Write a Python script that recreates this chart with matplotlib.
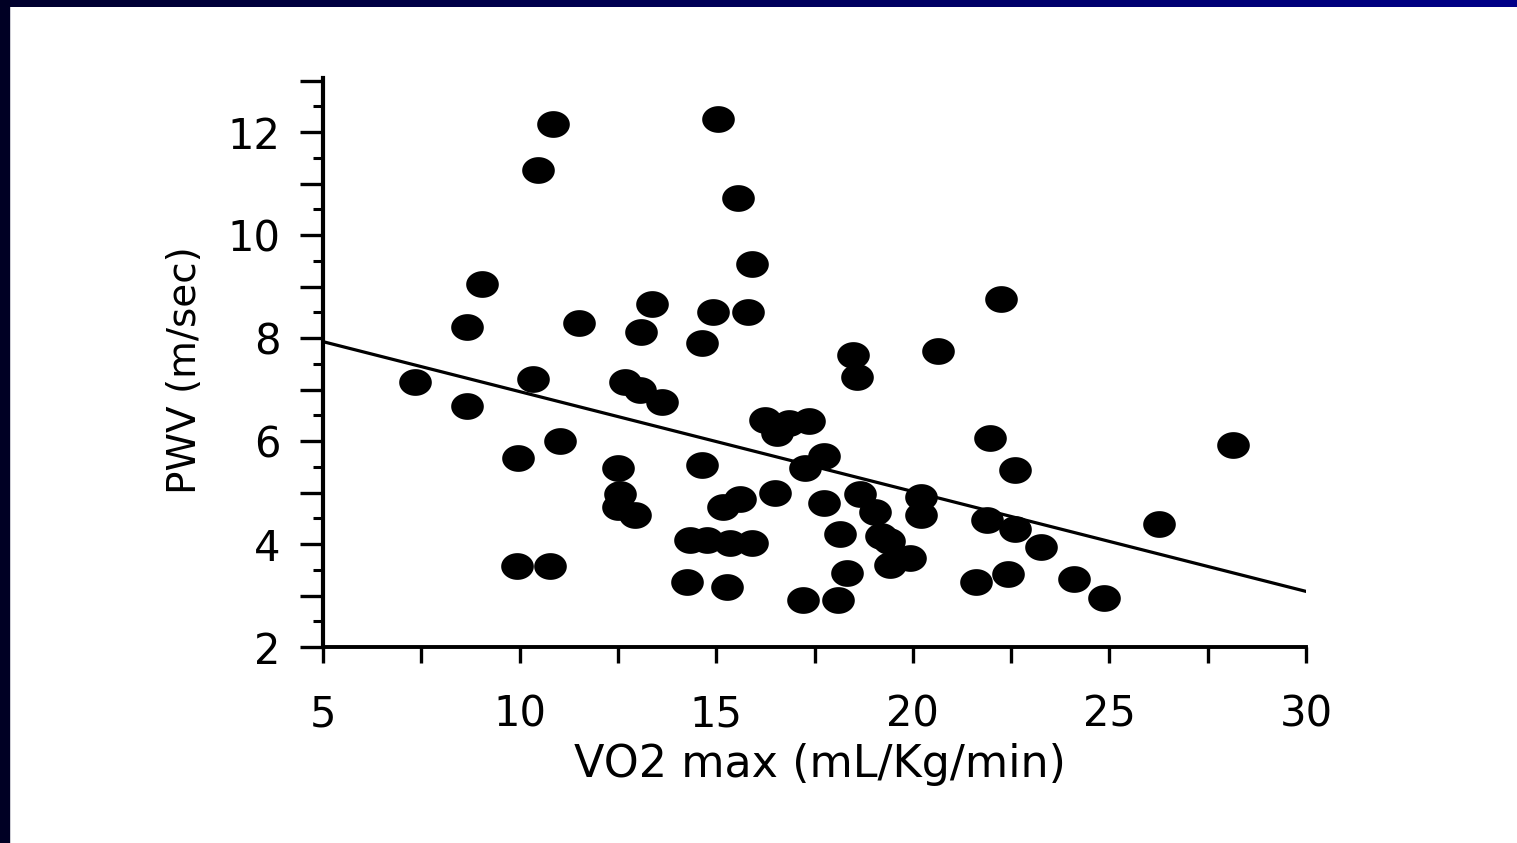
import matplotlib
matplotlib.use("Agg")
import matplotlib.pyplot as plt
import numpy as np
from matplotlib.colors import LinearSegmentedColormap
from matplotlib.patches import Rectangle
from matplotlib.path import Path
from matplotlib.ticker import MultipleLocator


# VO2 max (mL/Kg/min) vs PWV (m/sec)
vo2 = [
    7.34, 8.65, 8.65, 9.04, 9.97, 9.93, 10.35, 10.48, 10.77, 10.85,
    11.03, 11.52, 12.68, 13.06, 13.61, 13.10, 13.36, 12.51, 12.55, 12.51,
    12.93, 14.63, 14.93, 15.04, 15.56, 15.81, 15.92, 14.63, 15.18, 15.60,
    14.33, 14.76, 15.35, 15.90, 14.25, 15.27, 16.24, 16.55, 16.85, 17.37,
    16.50, 17.26, 17.74, 17.74, 18.49, 18.57, 18.66, 19.03, 18.15, 19.20,
    19.40, 19.42, 19.93, 18.32, 17.21, 18.11, 20.63, 20.22, 20.22, 21.96,
    21.88, 22.60, 22.60, 22.24, 21.62, 22.41, 23.25, 24.10, 24.87, 26.27,
    28.15,
]
pwv = [
    7.15, 8.22, 6.68, 9.05, 5.68, 3.57, 7.20, 11.26, 3.57, 12.16,
    6.00, 8.30, 7.15, 6.99, 6.76, 8.12, 8.66, 5.47, 4.98, 4.72,
    4.56, 7.90, 8.50, 12.25, 10.71, 8.50, 9.43, 5.53, 4.72, 4.88,
    4.08, 4.08, 4.01, 4.01, 3.27, 3.17, 6.40, 6.15, 6.35, 6.38,
    5.00, 5.47, 5.70, 4.79, 7.67, 7.25, 4.98, 4.63, 4.19, 4.15,
    4.05, 3.59, 3.72, 3.43, 2.91, 2.91, 7.75, 4.92, 4.56, 6.05,
    4.47, 4.30, 5.44, 8.76, 3.27, 3.41, 3.94, 3.33, 2.95, 4.39,
    5.92,
]

# regression line, endpoints
fit_x = [5, 30]
fit_y = [7.93, 3.08]

x_ticks = [5, 10, 15, 20, 25, 30]
y_ticks = [2, 4, 6, 8, 10, 12]

W, H = 1517, 843
plt.rcParams["font.family"] = ["DejaVu Sans"]

fig = plt.figure(figsize=(W / 100, H / 100), dpi=100)
fig.patch.set_facecolor("white")

# dark slide frame: left bar and gradient top bar
fig.patches.append(Rectangle((0, 0), 9 / W, 1, transform=fig.transFigure,
                             color="#000024", zorder=0))
bar = fig.add_axes([0, 1 - 7 / H, 1, 7 / H])
bar_cmap = LinearSegmentedColormap.from_list("frame", ["#00002e", "#000088"])
bar.imshow(np.linspace(0, 1, 256).reshape(1, -1), aspect="auto", cmap=bar_cmap)
bar.axis("off")

ax = fig.add_axes([323 / W, 196 / H, 983 / W, 569 / H])
ax.set_xlim(5, 30)
ax.set_ylim(2, 13.05)

# the original dots are squashed ellipses (image was stretched sideways)
t = np.linspace(0, 2 * np.pi, 60)
ellipse = Path(np.column_stack([1.22 * np.cos(t), np.sin(t)]), closed=True)
ax.plot(vo2, pwv, linestyle="none", marker=ellipse, markersize=23.5,
        color="black", markeredgewidth=0)

ax.plot(fit_x, fit_y, color="black", linewidth=2.3)

for side in ["top", "right"]:
    ax.spines[side].set_visible(False)
ax.spines["left"].set_linewidth(3.0)
ax.spines["bottom"].set_linewidth(2.8)

x_all = np.arange(5, 30.1, 2.5)
ax.set_xticks(x_all)
ax.set_xticklabels([str(int(v)) if v in x_ticks else "" for v in x_all])
y_all = np.arange(2, 13.1, 1)
ax.set_yticks(y_all)
ax.set_yticklabels([str(int(v)) if v in y_ticks else "" for v in y_all])
ax.yaxis.set_minor_locator(MultipleLocator(0.5))

ax.tick_params(axis="x", which="major", direction="out", length=11.5, width=2.4,
               pad=22, labelsize=30)
ax.tick_params(axis="y", which="major", direction="out", length=16.5, width=2.4,
               pad=14, labelsize=30)
ax.tick_params(axis="y", which="minor", direction="out", length=7, width=2.2)

ax.set_xlabel("VO2 max (mL/Kg/min)", fontsize=32)
ax.xaxis.set_label_coords(0.506, -0.207)
ax.xaxis.label.set_va("center")
ax.set_ylabel("PWV (m/sec)", fontsize=28)
ax.yaxis.set_label_coords(-0.140, 0.487)
ax.yaxis.label.set_va("center")

fig.savefig("out.png", dpi=100)
plt.close(fig)
